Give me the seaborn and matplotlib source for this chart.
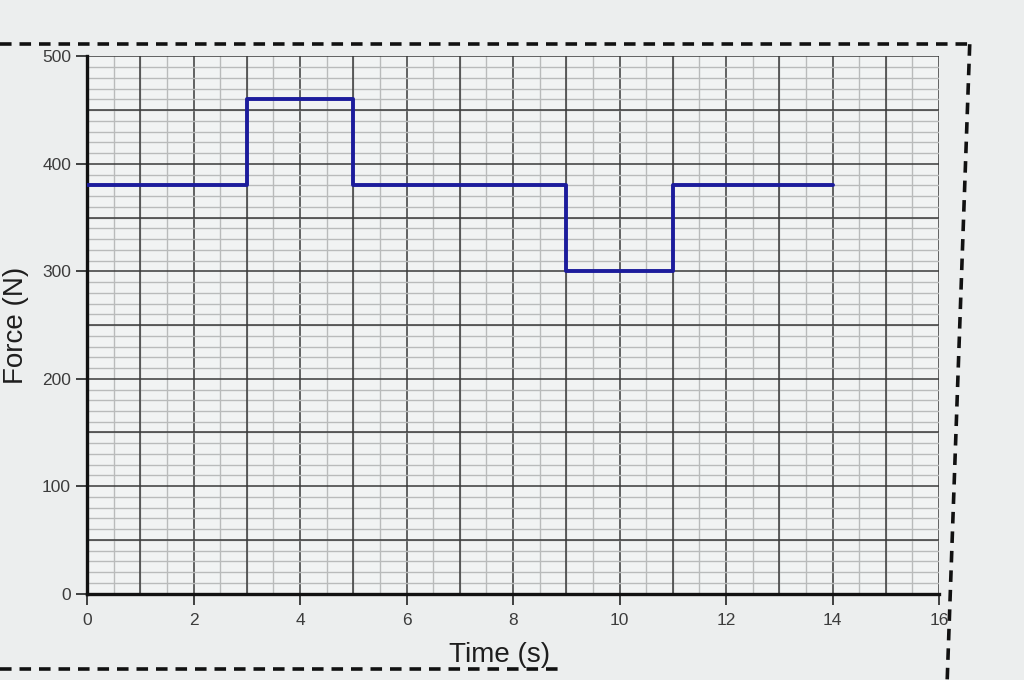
import numpy as np
import pandas as pd
import matplotlib
matplotlib.use("Agg")
import matplotlib.pyplot as plt
from matplotlib.lines import Line2D
from matplotlib.ticker import MultipleLocator
import seaborn as sns

# ---- data ----
breakpoints = [0, 3, 5, 9, 11, 14]          # time (s) where the force changes
force_levels = [380, 460, 380, 300, 380]    # force (N) on each interval
x_ticks = [0, 2, 4, 6, 8, 10, 12, 14, 16]
y_ticks = [0, 100, 200, 300, 400, 500]

sns.set_theme(style="white")
plt.rcParams['font.family'] = ['Liberation Sans', 'DejaVu Sans']

df = pd.DataFrame({"Time (s)": breakpoints,
                   "Force (N)": force_levels + [force_levels[-1]]})

fig = plt.figure(figsize=(10.24, 6.8), dpi=100)
fig.patch.set_facecolor('#eceeee')
ax = fig.add_axes([0.085, 0.127, 0.832, 0.79])
ax.set_facecolor('#f1f3f3')

ax.set_xlim(0, 16)
ax.set_ylim(0, 500)

# graph-paper grid: minor every 0.5 s / 10 N, major every 1 s / 50 N
ax.xaxis.set_minor_locator(MultipleLocator(0.5))
ax.yaxis.set_minor_locator(MultipleLocator(10))
ax.grid(which='minor', color='#b9bbbb', linewidth=1.0, zorder=0)
ax.set_axisbelow(True)

sns.lineplot(data=df, x="Time (s)", y="Force (N)", ax=ax,
             drawstyle='steps-post', color='#1c1c9c', linewidth=2.8,
             estimator=None, sort=False, zorder=5)

ax.set_xticks(x_ticks)
ax.set_xticklabels([str(v) for v in x_ticks])
ax.set_yticks(y_ticks)
ax.set_yticklabels([str(v) for v in y_ticks])
ax.grid(which='major', color='#3a3a3a', linewidth=1.1, zorder=1)
for xv in np.arange(1, 16, 2):
    ax.axvline(xv, color='#3a3a3a', linewidth=1.1, zorder=1)
for yv in np.arange(50, 500, 100):
    ax.axhline(yv, color='#3a3a3a', linewidth=1.1, zorder=1)

ax.tick_params(axis='both', which='major', length=8, width=1.2,
               color='#222222', labelcolor='#3c3c3c', labelsize=12.5,
               direction='out', bottom=True, left=True)
ax.tick_params(axis='both', which='minor', length=0)
ax.xaxis.set_tick_params(pad=6)

for side in ['top', 'right']:
    ax.spines[side].set_visible(False)
for side in ['left', 'bottom']:
    ax.spines[side].set_visible(True)
    ax.spines[side].set_color('#111111')
    ax.spines[side].set_linewidth(2.4)

ax.set_xlabel("Time (s)", fontsize=20, color='#1e1e1e')
ax.set_ylabel("Force (N)", fontsize=20, color='#1e1e1e')
ax.xaxis.set_label_coords(0.484, -0.114)
ax.xaxis.label.set_verticalalignment('center')
ax.yaxis.set_label_coords(-0.083, 0.50)
ax.yaxis.label.set_verticalalignment('center')

# dashed frame of the printed figure
dash = dict(color='#111111', linewidth=2.6, linestyle=(0, (3.2, 2.2)))
fig.add_artist(Line2D([0.0, 0.947], [0.935, 0.935], transform=fig.transFigure, **dash))
fig.add_artist(Line2D([0.947, 0.925], [0.935, 0.0], transform=fig.transFigure, **dash))
fig.add_artist(Line2D([0.0, 0.545], [0.016, 0.016], transform=fig.transFigure, **dash))

fig.savefig("out.png", dpi=100, facecolor=fig.get_facecolor())
